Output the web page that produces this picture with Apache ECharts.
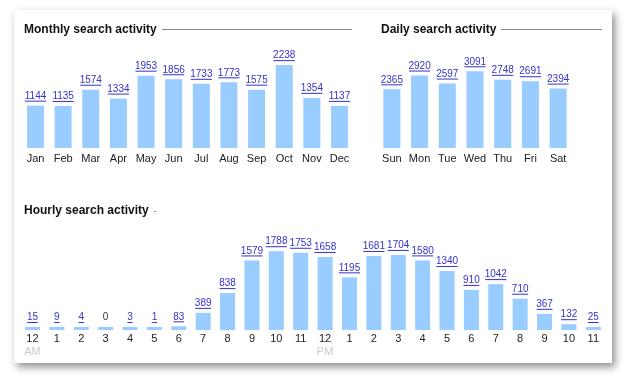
<!DOCTYPE html>
<html>
<head>
<meta charset="utf-8">
<script src="https://cdn.jsdelivr.net/npm/echarts@6/dist/echarts.min.js"></script>
<style>
  html, body { margin: 0; padding: 0; background: #fff; }
  #main { width: 628px; height: 384px; }
</style>
</head>
<body>
<div id="main"></div>
<script>
// data
var months = ['Jan', 'Feb', 'Mar', 'Apr', 'May', 'Jun', 'Jul', 'Aug', 'Sep', 'Oct', 'Nov', 'Dec'];
var monthlyValues = [1144, 1135, 1574, 1334, 1953, 1856, 1733, 1773, 1575, 2238, 1354, 1137];

var days = ['Sun', 'Mon', 'Tue', 'Wed', 'Thu', 'Fri', 'Sat'];
var dailyValues = [2365, 2920, 2597, 3091, 2748, 2691, 2394];

var hours = ['12', '1', '2', '3', '4', '5', '6', '7', '8', '9', '10', '11',
             '12', '1', '2', '3', '4', '5', '6', '7', '8', '9', '10', '11'];
var hourlyValues = [15, 9, 4, 0, 3, 1, 83, 389, 838, 1579, 1788, 1753,
                    1658, 1195, 1681, 1704, 1580, 1340, 910, 1042, 710, 367, 132, 25];

var barColor = '#99ccff';
var linkColor = '#3333cc';
var font = 'Arial, "Liberation Sans", sans-serif';
var minH = 3;

var myChart = echarts.init(document.getElementById('main'));

function pairs(arr) {
    return arr.map(function (v, i) { return [i, v]; });
}

// underlined number above each bar
function labelItem(params, api) {
    var i = api.value(0), v = api.value(1);
    var p = api.coord([i, v]);
    var base = api.coord([i, 0])[1];
    var top = Math.min(p[1], base - minH);
    var txt = String(v);
    var w = txt.length * 5.3;
    var children = [{
        type: 'text',
        style: {
            text: txt, x: p[0], y: top - 9.5,
            align: 'center', verticalAlign: 'middle',
            font: '10px ' + font,
            fill: v === 0 ? '#333' : linkColor
        }
    }];
    if (v !== 0) {
        children.push({
            type: 'line',
            shape: { x1: p[0] - w / 2, y1: top - 4.5, x2: p[0] + w / 2, y2: top - 4.5 },
            style: { stroke: linkColor, lineWidth: 1 }
        });
    }
    return { type: 'group', children: children };
}

function xAxisOf(idx, data, margin) {
    return {
        type: 'category', gridIndex: idx, data: data,
        axisLine: { show: false }, axisTick: { show: false },
        axisLabel: {
            interval: 0, margin: margin, color: '#222',
            fontFamily: font, fontSize: 11, lineHeight: 13,
            formatter: function (val, i) {
                if (idx === 2 && i === 0) return val + '\n{ap|AM}';
                if (idx === 2 && i === 12) return val + '\n{ap|PM}';
                return val;
            },
            rich: { ap: { color: '#cccccc', fontSize: 11, fontFamily: font, lineHeight: 13 } }
        }
    };
}

function yAxisOf(idx, max) {
    return {
        type: 'value', gridIndex: idx, min: 0, max: max, show: false,
        splitLine: { show: false }
    };
}

function titleText(x, y, text) {
    return {
        type: 'text', x: x, y: y,
        style: { text: text, font: 'bold 12px ' + font, fill: '#111', verticalAlign: 'middle' }
    };
}

function hLine(x1, x2, y) {
    return {
        type: 'line',
        shape: { x1: x1, y1: y, x2: x2, y2: y },
        style: { stroke: '#888', lineWidth: 1 }
    };
}

var option = {
    animation: false,
    backgroundColor: '#fff',
    graphic: [
        {
            type: 'rect', z: -10,
            shape: { x: 14, y: 10, width: 598, height: 353 },
            style: {
                fill: '#fff',
                shadowBlur: 8, shadowOffsetX: 3, shadowOffsetY: 4,
                shadowColor: 'rgba(0,0,0,0.45)'
            }
        },
        titleText(24, 29.5, 'Monthly search activity'),
        hLine(162, 352, 29.5),
        titleText(381, 29.5, 'Daily search activity'),
        hLine(501, 602, 29.5),
        titleText(24, 210.5, 'Hourly search activity'),
        hLine(154, 156, 211.5)
    ],
    grid: [
        { left: 21.7, top: 48, width: 331.6, height: 100 },
        { left: 378, top: 48, width: 194, height: 100 },
        { left: 20.3, top: 230, width: 585.2, height: 100 }
    ],
    xAxis: [
        xAxisOf(0, months, 4),
        xAxisOf(1, days, 4),
        xAxisOf(2, hours, 2)
    ],
    yAxis: [
        yAxisOf(0, 2700),
        yAxisOf(1, 4030),
        yAxisOf(2, 2270)
    ],
    series: [
        { type: 'bar', xAxisIndex: 0, yAxisIndex: 0, data: monthlyValues, barWidth: 17,
          barMinHeight: minH, itemStyle: { color: barColor } },
        { type: 'bar', xAxisIndex: 1, yAxisIndex: 1, data: dailyValues, barWidth: 17,
          barMinHeight: minH, itemStyle: { color: barColor } },
        { type: 'bar', xAxisIndex: 2, yAxisIndex: 2, data: hourlyValues, barWidth: 15,
          barMinHeight: minH, itemStyle: { color: barColor } },
        { type: 'custom', xAxisIndex: 0, yAxisIndex: 0, data: pairs(monthlyValues),
          encode: { x: 0, y: 1 }, renderItem: labelItem, z: 5 },
        { type: 'custom', xAxisIndex: 1, yAxisIndex: 1, data: pairs(dailyValues),
          encode: { x: 0, y: 1 }, renderItem: labelItem, z: 5 },
        { type: 'custom', xAxisIndex: 2, yAxisIndex: 2, data: pairs(hourlyValues),
          encode: { x: 0, y: 1 }, renderItem: labelItem, z: 5 }
    ]
};

myChart.setOption(option);
window.onresize = function () {
    myChart.resize();
};
</script>
</body>
</html>
